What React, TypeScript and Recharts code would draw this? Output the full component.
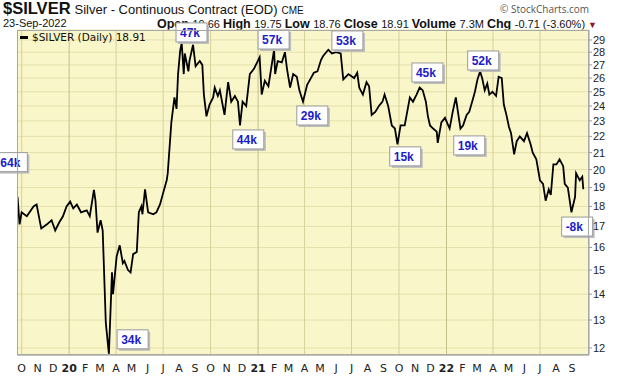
import React from "react";
import {
  LineChart,
  Line,
  XAxis,
  YAxis,
  CartesianGrid,
  ReferenceLine,
  ReferenceDot,
} from "recharts";

// closing prices
const dates = [
  "2019-09-23", "2019-09-27", "2019-10-01", "2019-10-11", "2019-10-24", "2019-10-30",
  "2019-11-06", "2019-11-08", "2019-11-19", "2019-11-28", "2019-12-05", "2019-12-13",
  "2019-12-20", "2019-12-27", "2020-01-03", "2020-01-09", "2020-01-16", "2020-01-24",
  "2020-02-04", "2020-02-10", "2020-02-18", "2020-02-21", "2020-02-25", "2020-03-02",
  "2020-03-06", "2020-03-12", "2020-03-18", "2020-03-24", "2020-03-26", "2020-04-02",
  "2020-04-08", "2020-04-14", "2020-04-17", "2020-04-24", "2020-04-29", "2020-05-04",
  "2020-05-11", "2020-05-15", "2020-05-20", "2020-05-22", "2020-05-27", "2020-06-02",
  "2020-06-12", "2020-06-18", "2020-06-25", "2020-07-01", "2020-07-08", "2020-07-10",
  "2020-07-17", "2020-07-23", "2020-07-27", "2020-07-30", "2020-08-03", "2020-08-06",
  "2020-08-10", "2020-08-12", "2020-08-19", "2020-08-21", "2020-08-28", "2020-09-02",
  "2020-09-10", "2020-09-15", "2020-09-18", "2020-09-23", "2020-09-29", "2020-10-06",
  "2020-10-09", "2020-10-15", "2020-10-19", "2020-10-28", "2020-11-04", "2020-11-10",
  "2020-11-17", "2020-11-23", "2020-11-27", "2020-12-02", "2020-12-09", "2020-12-16",
  "2020-12-24", "2021-01-04", "2021-01-08", "2021-01-14", "2021-01-21", "2021-02-01",
  "2021-02-03", "2021-02-08", "2021-02-16", "2021-02-22", "2021-02-26", "2021-03-04",
  "2021-03-10", "2021-03-17", "2021-03-22", "2021-03-29", "2021-04-06", "2021-04-12",
  "2021-04-19", "2021-04-26", "2021-05-03", "2021-05-07", "2021-05-17", "2021-05-24",
  "2021-06-01", "2021-06-10", "2021-06-15", "2021-06-25", "2021-07-06", "2021-07-12",
  "2021-07-16", "2021-07-23", "2021-07-30", "2021-08-04", "2021-08-09", "2021-08-16",
  "2021-08-23", "2021-08-30", "2021-09-03", "2021-09-10", "2021-09-17", "2021-09-23",
  "2021-09-28", "2021-10-04", "2021-10-12", "2021-10-22", "2021-10-28", "2021-11-04",
  "2021-11-10", "2021-11-16", "2021-11-22", "2021-11-26", "2021-11-30", "2021-12-06",
  "2021-12-13", "2021-12-15", "2021-12-22", "2021-12-29", "2022-01-07", "2022-01-13",
  "2022-01-19", "2022-01-24", "2022-01-28", "2022-02-02", "2022-02-09", "2022-02-14",
  "2022-02-22", "2022-02-25", "2022-03-02", "2022-03-07", "2022-03-11", "2022-03-16",
  "2022-03-21", "2022-03-25", "2022-03-31", "2022-04-07", "2022-04-12", "2022-04-18",
  "2022-04-22", "2022-04-27", "2022-05-02", "2022-05-06", "2022-05-12", "2022-05-17",
  "2022-05-23", "2022-05-31", "2022-06-06", "2022-06-13", "2022-06-17", "2022-06-24",
  "2022-07-01", "2022-07-07", "2022-07-12", "2022-07-18", "2022-07-22", "2022-07-27",
  "2022-08-02", "2022-08-08", "2022-08-15", "2022-08-18", "2022-08-24", "2022-08-31",
  "2022-09-07", "2022-09-09", "2022-09-16", "2022-09-21", "2022-09-23",
];

const prices = [
  18.5, 17.1, 17.7, 17.5, 18.0, 18.1,
  17.15, 16.9, 17.1, 17.3, 16.8, 17.2,
  17.5, 18.0, 18.25, 17.9, 18.1, 17.7,
  17.8, 17.5, 18.87, 18.3, 16.7, 17.3,
  16.8, 12.9, 11.8, 14.9, 14.0, 15.6,
  16.1, 15.3, 15.4, 15.0, 14.9, 15.7,
  15.8, 17.7, 18.0, 17.6, 18.9, 17.7,
  17.6, 17.7, 18.1, 18.7, 19.4, 19.8,
  22.9, 24.6, 23.8, 26.3, 28.1, 28.75,
  26.3, 27.9, 26.5, 27.3, 28.6, 26.9,
  27.3, 27.0, 24.8, 23.3, 24.1, 24.6,
  25.3, 24.7, 25.1, 23.4, 25.7, 24.3,
  24.7, 24.3, 22.7, 24.3, 24.0, 26.3,
  26.7, 27.6, 24.8, 25.8, 25.4, 28.2,
  26.3, 27.3, 27.2, 28.0, 26.7, 25.3,
  26.3, 26.1, 25.1, 24.3, 25.5, 25.9,
  26.4, 26.5, 27.4, 27.7, 28.2, 27.9,
  28.0, 27.9, 25.9, 26.3, 26.0, 26.4,
  25.3, 24.8, 25.7, 25.4, 23.4, 23.6,
  24.0, 24.3, 24.8, 24.0, 22.7, 22.5,
  21.5, 22.7, 22.7, 24.6, 24.3, 24.8,
  25.3, 25.1, 24.3, 23.3, 22.7, 22.5,
  22.3, 21.6, 22.9, 23.2, 22.5, 23.6,
  24.6, 23.4, 22.5, 22.7, 23.4, 23.6,
  24.6, 25.0, 25.9, 26.5, 26.0, 25.1,
  25.6, 24.8, 25.0, 24.7, 26.1, 26.0,
  24.1, 23.4, 22.6, 22.2, 20.9, 21.7,
  22.0, 21.7, 22.2, 21.5, 21.0, 20.6,
  19.4, 19.2, 18.3, 18.9, 18.6, 20.3,
  20.3, 20.6, 20.2, 19.2, 19.0, 17.7,
  18.5, 19.8, 19.4, 19.6, 18.91,
];

// commitment labels pinned on the chart (top-left corner of each box)
const noteLabels = ["64k", "34k", "47k", "44k", "57k", "29k", "53k", "15k", "45k", "19k", "52k", "-8k"];
const noteDates = [
  "2019-08-13", "2020-04-03", "2020-07-26", "2020-11-13", "2021-01-01", "2021-03-17",
  "2021-05-24", "2021-09-13", "2021-10-26", "2022-01-15", "2022-02-11", "2022-08-12",
];
const notePrices = [21.0, 12.64, 30.45, 22.41, 29.84, 24.0, 29.76, 21.35, 27.15, 22.03, 28.1, 17.46];

const priceTicks = [12, 13, 14, 15, 16, 17, 18, 19, 20, 21, 22, 23, 24, 25, 26, 27, 28, 29];
const monthLetters = ["J", "F", "M", "A", "M", "J", "J", "A", "S", "O", "N", "D"];

const DAY = 86400000;
const ORIGIN = Date.parse("2020-01-01");
const dayNum = (s: string) => (Date.parse(s) - ORIGIN) / DAY;

const data = dates.map((d, i) => ({ t: dayNum(d), price: prices[i] }));

const monthTicks: number[] = [];
for (let y = 2019, m = 9; y < 2022 || m <= 8; m++) {
  if (m > 11) {
    m = 0;
    y++;
  }
  monthTicks.push((Date.UTC(y, m, 1) - ORIGIN) / DAY);
}

const BG = "#F9F6C9";
const GRID = "#E4E0AC";

const MonthTick = (props: any) => {
  const { x, y, payload } = props;
  const d = new Date(ORIGIN + payload.value * DAY);
  const m = d.getUTCMonth();
  const isYear = m === 0;
  return (
    <text
      x={x}
      y={y + 15}
      textAnchor="middle"
      fontSize={11}
      fontFamily="DejaVu Sans, sans-serif"
      fontWeight={isYear ? "bold" : "normal"}
      fill="#222"
    >
      {isYear ? String(d.getUTCFullYear()).slice(2) : monthLetters[m]}
    </text>
  );
};

const NoteBox = (label: string) => (props: any) => {
  const { cx, cy } = props;
  return (
    <g>
      <rect x={cx + 2} y={cy + 2} width={31} height={19} fill="#bdbdbd" />
      <rect x={cx} y={cy} width={31} height={19} fill="#fff" stroke="#9a9a9a" />
      <text
        x={cx + 4}
        y={cy + 14}
        fontSize={12}
        fontWeight="bold"
        fontFamily="Liberation Sans, Arial, sans-serif"
        fill="#1c1cc8"
      >
        {label}
      </text>
    </g>
  );
};

const lbl: React.CSSProperties = { fontWeight: "bold", fontSize: 12.5 };
const val: React.CSSProperties = { fontSize: 11, marginRight: 3 };

export default function App() {
  return (
    <div
      style={{
        position: "absolute",
        left: 0,
        top: 0,
        width: 620,
        height: 376,
        background: "#fff",
        fontFamily: "Liberation Sans, Arial, sans-serif",
        color: "#111",
        overflow: "hidden",
      }}
    >
      <div style={{ position: "absolute", left: 3, top: 0, whiteSpace: "nowrap", lineHeight: "17px" }}>
        <span style={{ fontSize: 16.5, fontWeight: "bold" }}>$SILVER</span>
        <span style={{ fontSize: 13, marginLeft: 4 }}>Silver - Continuous Contract (EOD)</span>
        <span style={{ fontSize: 10, marginLeft: 4 }}>CME</span>
      </div>
      <div style={{ position: "absolute", left: 3, top: 17, fontSize: 11, whiteSpace: "nowrap" }}>
        23-Sep-2022
      </div>
      <div style={{ position: "absolute", left: 157, top: 14, whiteSpace: "nowrap" }}>
        <span style={lbl}>Open </span>
        <span style={val}>19.66</span>
        <span style={lbl}>High </span>
        <span style={val}>19.75</span>
        <span style={lbl}>Low </span>
        <span style={val}>18.76</span>
        <span style={lbl}>Close </span>
        <span style={val}>18.91</span>
        <span style={lbl}>Volume </span>
        <span style={val}>7.3M</span>
        <span style={lbl}>Chg </span>
        <span style={{ fontSize: 11 }}>-0.71 (-3.60%)</span>
        <span style={{ fontSize: 9, color: "#8b1a2a", marginLeft: 3 }}>▼</span>
      </div>
      <div
        style={{
          position: "absolute",
          left: 500,
          top: 2,
          fontSize: 10,
          color: "#555",
          fontFamily: "Open Sans, sans-serif",
          whiteSpace: "nowrap",
        }}
      >
        © StockCharts.com
      </div>

      <div style={{ position: "absolute", left: 0, top: 0 }}>
        <LineChart
          width={620}
          height={376}
          data={data}
          margin={{ top: 30, right: 0, bottom: 0, left: 17 }}
        >
          <CartesianGrid fill={BG} fillOpacity={1} stroke={GRID} vertical={false} />
          {monthTicks
            .filter((t) => new Date(ORIGIN + t * DAY).getUTCMonth() % 3 === 0)
            .map((t) => (
              <ReferenceLine
                key={t}
                x={t}
                stroke={new Date(ORIGIN + t * DAY).getUTCMonth() === 0 ? "#C5C18A" : "#D6D29C"}
              />
            ))}
          <XAxis
            dataKey="t"
            type="number"
            domain={[dayNum("2019-09-22"), dayNum("2022-10-04")]}
            ticks={monthTicks}
            tick={<MonthTick />}
            tickLine={false}
            tickSize={0}
            height={21}
            axisLine={{ stroke: "#999" }}
            allowDataOverflow
            interval={0}
          />
          <YAxis
            orientation="right"
            scale="log"
            domain={[11.76, 29.84]}
            ticks={priceTicks}
            allowDataOverflow
            width={31}
            tickSize={3}
            tickMargin={1}
            interval={0}
            axisLine={{ stroke: "#999" }}
            tickLine={{ stroke: "#999" }}
            tick={{ fontSize: 11, fill: "#222", fontFamily: "Liberation Sans, Arial, sans-serif", textAnchor: "start" }}
          />
          <Line
            dataKey="price"
            stroke="#000"
            strokeWidth={1.8}
            dot={false}
            isAnimationActive={false}
          />
          {noteLabels.map((label, i) => (
            <ReferenceDot
              key={label}
              x={dayNum(noteDates[i])}
              y={notePrices[i]}
              ifOverflow="visible"
              shape={NoteBox(label)}
            />
          ))}
        </LineChart>
      </div>

      <div
        style={{
          position: "absolute",
          left: 17,
          top: 30,
          width: 572,
          height: 325,
          border: "1px solid #a8a8a8",
          boxSizing: "border-box",
          pointerEvents: "none",
        }}
      />
      <div
        style={{
          position: "absolute",
          left: 20,
          top: 31,
          fontSize: 10.5,
          fontFamily: "DejaVu Sans, sans-serif",
          whiteSpace: "nowrap",
          display: "flex",
          alignItems: "center",
        }}
      >
        <span style={{ display: "inline-block", width: 8, height: 3, background: "#000", marginRight: 4 }} />
        $SILVER (Daily) 18.91
      </div>
    </div>
  );
}
